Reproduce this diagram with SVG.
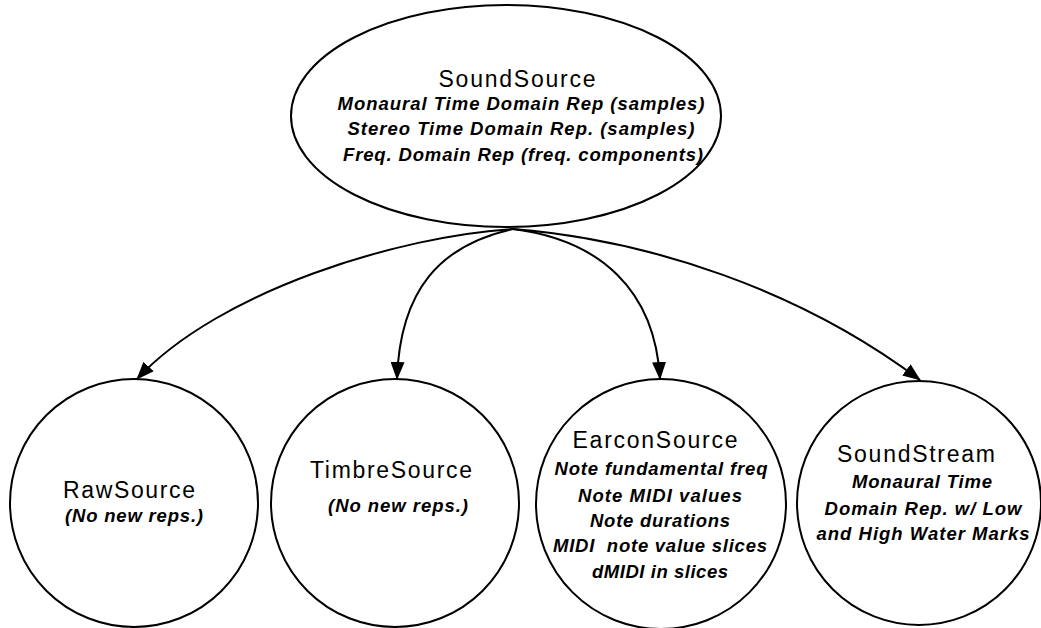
<svg xmlns="http://www.w3.org/2000/svg" width="1041" height="628" viewBox="0 0 1041 628">
  <style>
    .shape { fill: #fff; stroke: #000; stroke-width: 2; }
    .edge { fill: none; stroke: #000; stroke-width: 2; }
    .title { font-family: "Liberation Sans", Arial, sans-serif; font-size: 23px; fill: #000; text-anchor: middle; }
    .rep { font-family: "Liberation Sans", Arial, sans-serif; font-size: 18.5px; font-style: italic; font-weight: bold; fill: #000; text-anchor: middle; }
  </style>
  <defs>
    <marker id="arrow" viewBox="0 0 18 14" refX="17" refY="7" markerWidth="18" markerHeight="14" markerUnits="userSpaceOnUse" orient="auto">
      <path d="M0,0 L18,7 L0,14 Z" fill="#000"/>
    </marker>
  </defs>

  <rect width="1041" height="628" fill="#fff"/>

  <!-- inheritance connectors from the base class -->
  <g id="connectors">
    <path class="edge" d="M513,229 C400,236 220,290 137,379" marker-end="url(#arrow)"/>
    <path class="edge" d="M513,229 C440,245 400,290 397,379" marker-end="url(#arrow)"/>
    <path class="edge" d="M513,229 C600,240 655,290 660,379" marker-end="url(#arrow)"/>
    <path class="edge" d="M513,229 C650,240 800,290 920,380" marker-end="url(#arrow)"/>
  </g>

  <g id="SoundSource">
    <ellipse class="shape" cx="506" cy="116" rx="215" ry="111"/>
    <text class="title" x="517" y="87" textLength="157">SoundSource</text>
    <text class="rep" x="521" y="110" textLength="367">Monaural Time Domain Rep (samples)</text>
    <text class="rep" x="521" y="135" textLength="347">Stereo Time Domain Rep. (samples)</text>
    <text class="rep" x="523" y="161" textLength="360">Freq. Domain Rep (freq. components)</text>
  </g>

  <g id="RawSource">
    <circle class="shape" cx="134" cy="503" r="124"/>
    <text class="title" x="129" y="498" textLength="132">RawSource</text>
    <text class="rep" x="134" y="522" textLength="138">(No new reps.)</text>
  </g>

  <g id="TimbreSource">
    <circle class="shape" cx="395" cy="503" r="124"/>
    <text class="title" x="391" y="478" textLength="162">TimbreSource</text>
    <text class="rep" x="398" y="512" textLength="140">(No new reps.)</text>
  </g>

  <g id="EarconSource">
    <circle class="shape" cx="661" cy="504" r="125"/>
    <text class="title" x="655" y="448" textLength="165">EarconSource</text>
    <text class="rep" x="661" y="475" textLength="213">Note fundamental freq</text>
    <text class="rep" x="660" y="502" textLength="164">Note MIDI values</text>
    <text class="rep" x="660" y="527" textLength="140">Note durations</text>
    <text class="rep" x="660" y="552" textLength="214">MIDI&#160; note value slices</text>
    <text class="rep" x="660" y="578" textLength="136">dMIDI in slices</text>
  </g>

  <g id="SoundStream">
    <circle class="shape" cx="919" cy="503" r="122"/>
    <text class="title" x="916" y="462" textLength="158">SoundStream</text>
    <text class="rep" x="922" y="488" textLength="140">Monaural Time</text>
    <text class="rep" x="923" y="515" textLength="197">Domain Rep. w/ Low</text>
    <text class="rep" x="923" y="540" textLength="213">and High Water Marks</text>
  </g>
</svg>
